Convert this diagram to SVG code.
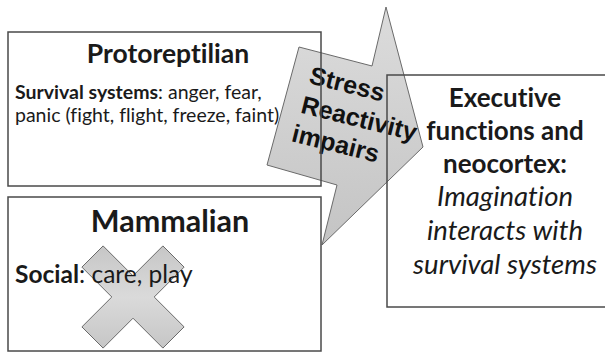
<svg xmlns="http://www.w3.org/2000/svg" width="605" height="352" viewBox="0 0 605 352">
<defs>
<linearGradient id="gArrow" x1="0" y1="0" x2="0" y2="1">
<stop offset="0" stop-color="#dcdcdc"/>
<stop offset="1" stop-color="#c4c4c4"/>
</linearGradient>
<linearGradient id="gX" x1="0" y1="0" x2="0" y2="1">
<stop offset="0" stop-color="#c6c6c6"/>
<stop offset="0.5" stop-color="#dadada"/>
<stop offset="1" stop-color="#c6c6c6"/>
</linearGradient>
</defs>
<style>
.box{fill:none;stroke:#4a4a4a;stroke-width:1.5}
.shape{stroke:#6a6a6a;stroke-width:1}
.t{font-family:Lato,"Open Sans",sans-serif;fill:#1a1a1a;font-variant-ligatures:none}
.b{font-weight:bold}
.i{font-style:italic}
.ar{font-family:"Liberation Sans",Arial,sans-serif;font-weight:bold;font-size:25px;fill:#111}
</style>
<rect width="605" height="352" fill="#fff"/>
<g id="connectors">
<polygon class="shape" fill="url(#gArrow)" points="299,47 372,66 386,7 423,147 322,245 337,185 267,165"/>
<g transform="rotate(14 345 117)">
<text class="ar" x="301" y="93">Stress</text>
<text class="ar" x="300" y="123.5">Reactivity</text>
<text class="ar" x="298" y="153.5">impairs</text>
</g>
</g>
<g id="protoreptilian">
<rect class="box" x="8" y="32" width="313" height="154"/>
<text class="t b" x="168" y="63" font-size="26.5" text-anchor="middle">Protoreptilian</text>
<text class="t" x="15" y="99" font-size="19.5"><tspan class="b">Survival systems</tspan>: anger, fear,</text>
<text class="t" x="15" y="122" font-size="19.5">panic (fight, flight, freeze, faint)</text>
</g>
<g id="mammalian">
<rect class="box" x="8" y="197" width="313" height="154"/>
<polygon class="shape" fill="url(#gX)" points="133,275.8 162.9,245.9 184.1,267.1 154.2,297 184.1,326.9 162.9,348.1 133,318.2 103.1,348.1 81.9,326.9 111.8,297 81.9,267.1 103.1,245.9"/>
<text class="t b" x="170" y="231.5" font-size="30.5" text-anchor="middle">Mammalian</text>
<text class="t" x="15" y="283" font-size="24.5"><tspan class="b">Social</tspan>: care, play</text>
</g>
<g id="executive">
<rect class="box" x="387" y="75" width="236" height="232"/>
<text class="t b" x="505" y="107" font-size="26" text-anchor="middle">Executive</text>
<text class="t b" x="505" y="140" font-size="26" text-anchor="middle">functions and</text>
<text class="t b" x="505" y="173" font-size="26" text-anchor="middle">neocortex:</text>
<text class="t i" x="505" y="206" font-size="27.5" text-anchor="middle">Imagination</text>
<text class="t i" x="505" y="240" font-size="27.5" text-anchor="middle">interacts with</text>
<text class="t i" x="505" y="274" font-size="27.5" text-anchor="middle">survival systems</text>
</g>
</svg>
